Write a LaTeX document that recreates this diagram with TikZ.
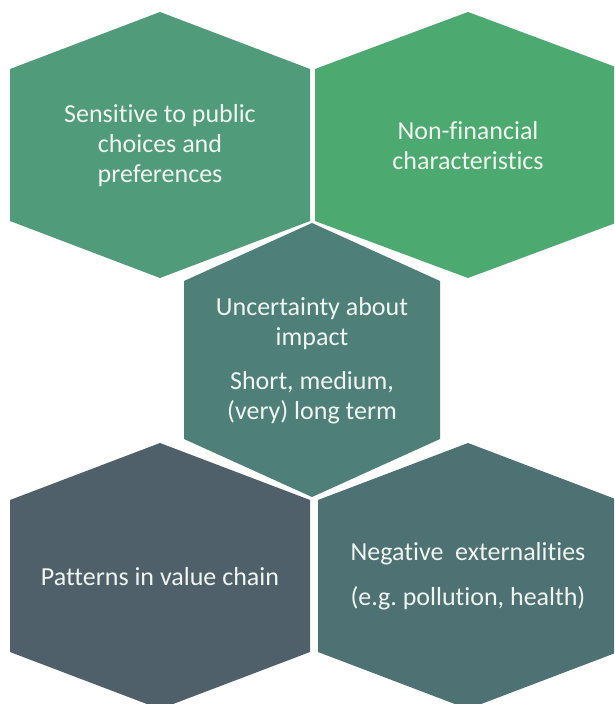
\documentclass[tikz,border=0pt]{standalone}
\usepackage{fontspec}
\setmainfont[Ligatures=NoCommon]{Carlito}
\frenchspacing
\definecolor{hexA}{RGB}{80,155,122}
\definecolor{hexB}{RGB}{76,169,112}
\definecolor{hexC}{RGB}{78,128,121}
\definecolor{hexD}{RGB}{80,96,106}
\definecolor{hexE}{RGB}{78,113,115}
\definecolor{hextext}{RGB}{240,245,240}
% \hexcell{name}{cx}{cy}{half width}{half height}{side offset}{colour}
\newcommand{\hexcell}[7]{%
  \fill[#7] ({#2},{#3-#5}) -- ({#2+#4},{#3-#6}) -- ({#2+#4},{#3+#6})
    -- ({#2},{#3+#5}) -- ({#2-#4},{#3+#6}) -- ({#2-#4},{#3-#6}) -- cycle;
  \coordinate (#1) at (#2,#3);}
\tikzset{
  hexlabel/.style={text=hextext, align=center, inner sep=0pt,
    font={\fontsize{26}{30}\selectfont}}
}
\begin{document}
\begin{tikzpicture}[x=1pt,y=-1pt]
  \useasboundingbox (0,0) rectangle (614,704);
  \clip (0,0) rectangle (614,704);
  \fill[white] (0,0) rectangle (614,704);
  \hexcell{h1}{160}{145}{150}{133}{76}{hexA}
  \hexcell{h2}{468}{145}{153}{133}{76}{hexB}
  \hexcell{h3}{312}{360}{128}{137}{79}{hexC}
  \hexcell{h4}{160}{576}{150}{133}{76}{hexD}
  \hexcell{h5}{468}{576}{150}{133}{76}{hexE}
  \node[hexlabel] (t1) at ([yshift=-1pt]h1) {Sensitive to public\\choices and\\preferences};
  \node[hexlabel] (t2) at ([yshift=-1pt]h2) {Non-financial\\characteristics};
  \node[hexlabel] (t3) at ([yshift=-1pt]h3) {Uncertainty about\\impact\\[14pt]Short, medium,\\(very) long term};
  \node[hexlabel] (t4) at ([yshift=-1pt]h4) {Patterns in value chain};
  \node[hexlabel] (t5) at ([yshift=0pt]h5) {Negative\ \ externalities\\[15pt](e.g. pollution, health)};
\end{tikzpicture}
\end{document}
